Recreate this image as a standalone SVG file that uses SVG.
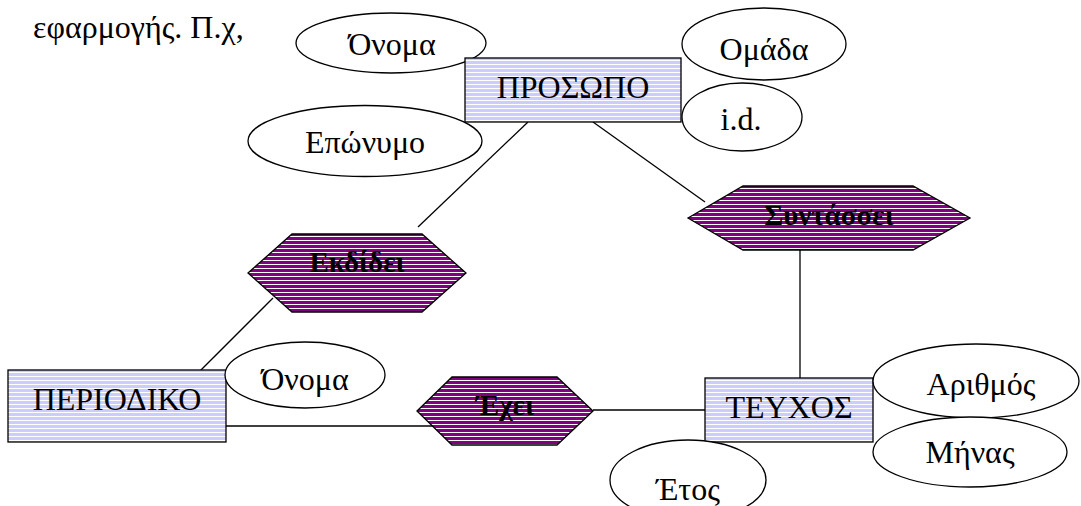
<svg xmlns="http://www.w3.org/2000/svg" width="1081" height="506" viewBox="0 0 1081 506">
<defs>
<pattern id="pEnt" patternUnits="userSpaceOnUse" width="8" height="4"><rect width="8" height="4" fill="#ccccff"/><rect y="0" width="8" height="1" fill="#ffffff"/></pattern>
<pattern id="pRel" patternUnits="userSpaceOnUse" width="8" height="4"><rect width="8" height="4" fill="#800080"/><rect y="0" width="8" height="1" fill="#ffffff"/></pattern>
</defs>
<style>
.ent{fill:url(#pEnt);stroke:#000;stroke-width:1.3}
.rel{fill:url(#pRel);stroke:#000;stroke-width:1.3}
.att{fill:#fff;stroke:#000;stroke-width:1.3}
.t{font-family:'Liberation Serif','DejaVu Serif',serif;font-size:32px;fill:#000;text-anchor:middle}
.tb{font-family:'Liberation Serif','DejaVu Serif',serif;font-size:29px;font-weight:bold;fill:#000;text-anchor:middle}
.ln{stroke:#000;stroke-width:1.3;fill:none}
</style>
<rect width="1081" height="506" fill="#fff"/>
<text x="33" y="38" class="t" style="text-anchor:start">εφαρμογής. Π.χ,</text>
<g id="connectors">
<line class="ln" x1="528" y1="122" x2="418" y2="227"/>
<line class="ln" x1="593" y1="122" x2="705" y2="202"/>
<line class="ln" x1="800" y1="250" x2="800" y2="378"/>
<line class="ln" x1="273" y1="298" x2="193" y2="378"/>
<line class="ln" x1="226" y1="426" x2="433" y2="426"/>
<line class="ln" x1="593" y1="410" x2="705" y2="410"/>
</g>
<g id="attr-onoma1"><ellipse class="att" cx="391" cy="43" rx="95" ry="30"/><text class="t" x="392" y="55">Όνομα</text></g>
<g id="attr-eponymo"><ellipse class="att" cx="365" cy="141" rx="117" ry="35.5"/><text class="t" x="365" y="153">Επώνυμο</text></g>
<g id="prosopo"><rect class="ent" x="465" y="58" width="216" height="64"/><text class="t" x="573" y="98">ΠΡΟΣΩΠΟ</text></g>
<g id="attr-omada"><ellipse class="att" cx="764" cy="44" rx="82" ry="36"/><text class="t" x="764" y="60">Ομάδα</text></g>
<g id="attr-id"><ellipse class="att" cx="742" cy="117" rx="60" ry="34"/><text class="t" x="741" y="130">i.d.</text></g>
<g id="syntassei"><polygon class="rel" points="688,218 743,186 913,186 970,218 913,250 743,250"/><text class="tb" x="829" y="225">Συντάσσει</text></g>
<g id="ekdidei"><polygon class="rel" points="248,273 292,234 422,234 466,273 422,312 292,312"/><text class="tb" x="357" y="272">Εκδίδει</text></g>
<g id="periodiko"><rect class="ent" x="8" y="370" width="218" height="72"/><text class="t" x="117" y="410">ΠΕΡΙΟΔΙΚΟ</text></g>
<g id="attr-onoma2"><ellipse class="att" cx="305" cy="375" rx="80" ry="33"/><text class="t" x="305" y="390">Όνομα</text></g>
<g id="exei"><polygon class="rel" points="417,411 452,377 557,377 593,411 557,445 452,445"/><text class="tb" x="505" y="415">Έχει</text></g>
<g id="teyxos"><rect class="ent" x="705" y="378" width="168" height="64"/><text class="t" x="789" y="418">ΤΕΥΧΟΣ</text></g>
<g id="attr-arithmos"><ellipse class="att" cx="976" cy="381" rx="103" ry="37"/><text class="t" x="981" y="395">Αριθμός</text></g>
<g id="attr-minas"><ellipse class="att" cx="970" cy="452" rx="97" ry="35"/><text class="t" x="970" y="463">Μήνας</text></g>
<g id="attr-etos"><ellipse class="att" cx="688" cy="480" rx="78" ry="40"/><text class="t" x="688" y="500">Έτος</text></g>
</svg>
